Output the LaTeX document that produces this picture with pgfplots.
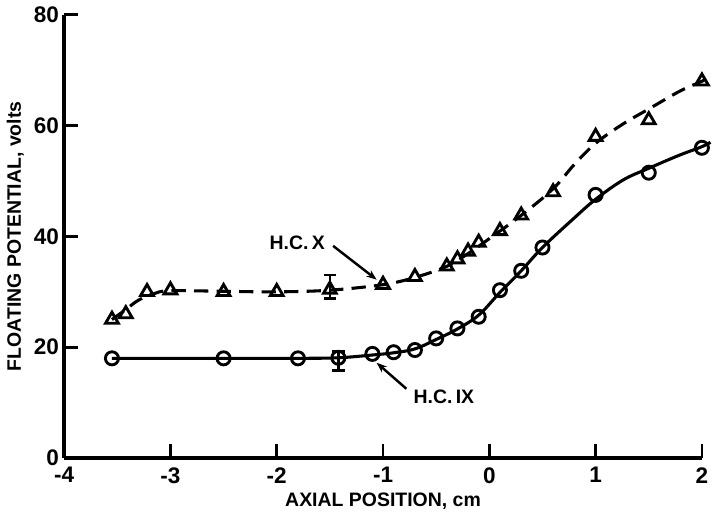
\documentclass[border=0pt]{standalone}
\usepackage{fontspec}
\setmainfont{Liberation Sans}
\usepackage{pgfplots}
\pgfplotsset{compat=1.18}
\usetikzlibrary{arrows.meta}
\begin{document}
\begin{tikzpicture}
\begin{axis}[
  scale only axis, width=311.5pt, height=216.5pt,
  xmin=-4, xmax=2, ymin=0, ymax=80,
  axis x line*=bottom, axis y line*=left,
  axis line style={line width=1.6pt, -},
  xtick={-4,-3,-2,-1,0,1,2}, ytick={0,20,40,60,80},
  tick align=inside, major tick length=7pt,
  tick style={line width=1.3pt, black},
  /pgf/number format/assume math mode=true,
  ticklabel style={font=\bfseries\fontsize{11}{11}\selectfont},
  xticklabel style={yshift=-1pt},
  yticklabel style={xshift=1pt},
  xlabel={\bfseries AXIAL POSITION, cm},
  ylabel={\bfseries FLOATING POTENTIAL, volts},
  label style={font=\fontsize{9.5}{10}\selectfont},
  xlabel style={yshift=2pt},
  ylabel style={yshift=-2pt},
  clip=false,
]
% fitted curves
\addplot[black, line width=1.5pt, dash pattern=on 7pt off 4pt, smooth, tension=0.6, mark=none]
  coordinates {
  (-3.55,25) (-3.42,26.8) (-3.3,28.5) (-3.15,29.7) (-3.0,30.2) (-2.5,30.1) (-2.0,30)
  (-1.5,30.3) (-1.0,31.3) (-0.7,32.6) (-0.4,34.6) (-0.2,36.9) (0,39.6) (0.3,43.8)
  (0.6,48.6) (0.8,53) (1.0,56.8) (1.25,60.2) (1.5,63) (1.8,66.3) (2.0,68) (2.06,68.8)
  };
\addplot[black, line width=1.5pt, smooth, tension=0.6, mark=none]
  coordinates {
  (-3.55,18) (-2.5,18) (-1.8,18) (-1.42,18.1) (-1.1,18.6) (-0.9,19) (-0.7,19.7)
  (-0.5,21.4) (-0.3,23.3) (-0.1,25.8) (0.1,29.9) (0.3,33.8) (0.5,38) (0.78,43)
  (1.0,46.7) (1.26,50.2) (1.5,52.3) (1.78,54.6) (2.0,56.2) (2.08,57)
  };
% H.C. X data (triangles)
\addplot[black, only marks, mark=triangle, mark size=3.6pt,
  mark options={solid, fill=white, line width=1.4pt}]
  coordinates {
  (-3.55,25) (-3.42,26) (-3.22,30) (-3.0,30.3) (-2.5,30) (-2.0,30) (-1.5,30.4)
  (-1.0,31.3) (-0.7,32.7) (-0.4,34.6) (-0.3,35.9) (-0.2,37.3) (-0.1,38.9)
  (0.1,41) (0.3,43.8) (0.6,48) (1.0,58) (1.5,61) (2.0,68)
  };
% H.C. IX data (circles)
\addplot[black, only marks, mark=o, mark size=3.2pt,
  mark options={solid, fill=white, line width=1.4pt}]
  coordinates {
  (-3.55,18) (-2.5,18) (-1.8,18) (-1.42,18.1) (-1.1,18.8) (-0.9,19.1) (-0.7,19.5)
  (-0.5,21.6) (-0.3,23.4) (-0.1,25.5) (0.1,30.3) (0.3,33.8) (0.5,38)
  (1.0,47.5) (1.5,51.5) (2.0,56)
  };
% error bars
\addplot[draw=none, mark=none, forget plot,
  error bars/.cd, y dir=both, y explicit,
  error bar style={black, solid, line width=1.2pt},
  error mark options={black, rotate=90, mark size=3pt, line width=1.2pt}]
  coordinates {(-1.5,30.9) +- (0,2.1)};
\addplot[draw=none, mark=none, forget plot,
  error bars/.cd, y dir=both, y explicit,
  error bar style={black, solid, line width=1.2pt},
  error mark options={black, rotate=90, mark size=3pt, line width=1.2pt}]
  coordinates {(-1.42,17.5) +- (0,1.7)};
% annotations
\node[font=\bfseries\fontsize{9.5}{9.5}\selectfont, anchor=east] at (axis cs:-1.48,38.8) {H.C.\,X};
\draw[line width=1.2pt, -{Stealth[length=5pt]}] (axis cs:-1.47,38.3) -- (axis cs:-1.06,32.2);
\node[font=\bfseries\fontsize{9.5}{9.5}\selectfont, anchor=west] at (axis cs:-0.78,11.0) {H.C.\,IX};
\draw[line width=1.2pt, -{Stealth[length=5pt]}] (axis cs:-0.78,12.5) -- (axis cs:-1.06,17.2);
\end{axis}
\end{tikzpicture}
\end{document}
